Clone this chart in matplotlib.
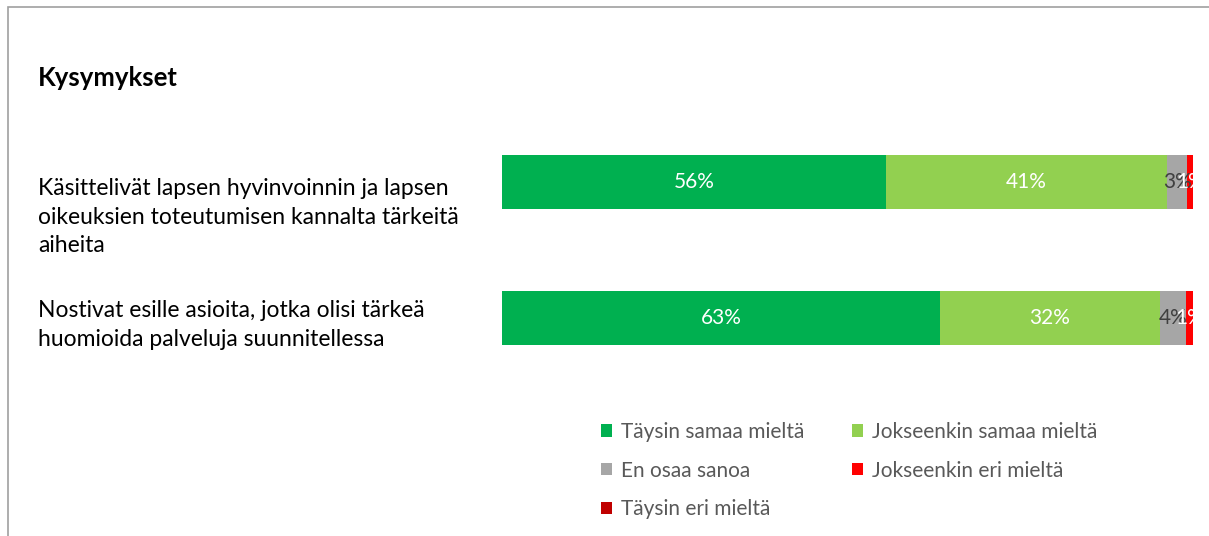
import numpy as np
import matplotlib.pyplot as plt
from matplotlib.patches import Rectangle

plt.rcParams['font.family'] = ['Lato', 'DejaVu Sans']

# data
questions = ['Käsittelivät lapsen hyvinvoinnin ja lapsen\noikeuksien toteutumisen kannalta tärkeitä\naiheita',
             'Nostivat esille asioita, jotka olisi tärkeä\nhuomioida palveluja suunnitellessa']
series = ['Täysin samaa mieltä', 'Jokseenkin samaa mieltä', 'En osaa sanoa',
          'Jokseenkin eri mieltä', 'Täysin eri mieltä']
taysin_samaa = [55.6, 63.4]
jokseenkin_samaa = [40.6, 31.8]
en_osaa = [3.0, 3.8]
jokseenkin_eri = [0.8, 1.0]
taysin_eri = [0.0, 0.0]
colors = ['#00b050', '#92d050', '#a6a6a6', '#ff0000', '#c00000']
label_colors = ['white', 'white', '#404040', 'white', 'white']

values = [taysin_samaa, jokseenkin_samaa, en_osaa, jokseenkin_eri, taysin_eri]

W, H = 1209, 536
fig = plt.figure(figsize=(W / 100, H / 100), dpi=100)

# frame around the chart area (cut at right / bottom)
fig.patches.append(Rectangle((8 / W, -0.1), 1.2, 1 - 7 / H + 0.1, transform=fig.transFigure,
                             fill=False, edgecolor='#a0a0a0', linewidth=1.2))

ax = fig.add_axes([502 / W, 1 - 370 / H, (1193 - 502) / W, 240 / H])
y = np.arange(len(questions))
left = np.zeros(len(questions))
handles = []
for name, vals, c, lc in zip(series, values, colors, label_colors):
    bars = ax.barh(y, vals, left=left, height=0.39, color=c, label=name)
    handles.append(bars)
    for yi, v, l in zip(y, vals, left):
        if v > 0:
            ax.text(l + v / 2, yi, f'{round(v):.0f}%', ha='center', va='center',
                    color=lc, fontsize=15)
    left += np.array(vals)

ax.set_xlim(0, 100)
ax.set_ylim(1.382, -0.382)
ax.axis('off')

fig.text(38 / W, 1 - 78 / H, 'Kysymykset', fontsize=18.5, fontweight='bold',
         va='center', ha='left', color='black')

label_centers = [217, 325]
for q, c in zip(questions, label_centers):
    fig.text(38 / W, 1 - c / H, q, fontsize=16.5, va='center', ha='left',
             color='black', linespacing=1.42)

order = [0, 2, 4, 1, 3]
leg = fig.legend([handles[i] for i in order], [series[i] for i in order],
                 ncol=2, loc='upper left', bbox_to_anchor=(582 / W, 1 - 403 / H),
                 frameon=False, fontsize=15, handlelength=0.55, handleheight=0.55,
                 handletextpad=0.4, columnspacing=2.3, labelspacing=0.9,
                 labelcolor='#595959')

fig.savefig('out.png', dpi=100, facecolor='white')
